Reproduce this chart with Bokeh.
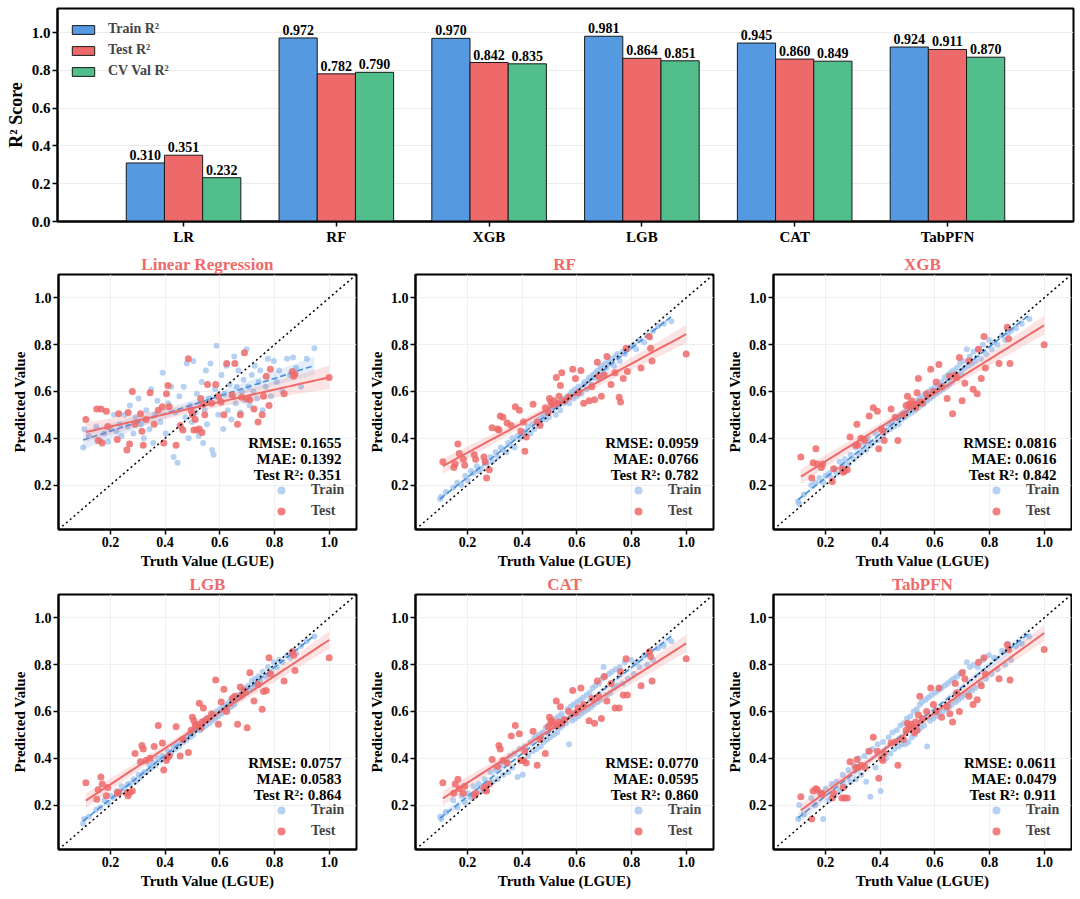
import numpy as np
from bokeh.plotting import figure
from bokeh.layouts import column, row
from bokeh.models import (ColumnDataSource, FactorRange, Range1d, FixedTicker,
                          NumeralTickFormatter, Legend, LegendItem, Label, Slope)
from bokeh.transform import dodge
from bokeh.core.properties import value
from bokeh.embed import file_html
from bokeh.resources import INLINE

FONT = "Liberation Serif"
BLUE = "#5599E0"
RED = "#EE6A6A"
GREEN = "#52BE8C"
TRAIN_DOT = "#9DC2EC"
TRAIN_LINE = "#4A8FDD"

# ---------------- bar chart data ----------------
models = ["LR", "RF", "XGB", "LGB", "CAT", "TabPFN"]
titles = ["Linear Regression", "RF", "XGB", "LGB", "CAT", "TabPFN"]
train_r2 = [0.310, 0.972, 0.970, 0.981, 0.945, 0.924]
test_r2 = [0.351, 0.782, 0.842, 0.864, 0.860, 0.911]
cv_r2 = [0.232, 0.790, 0.835, 0.851, 0.849, 0.870]
rmse = ["0.1655", "0.0959", "0.0816", "0.0757", "0.0770", "0.0611"]
mae = ["0.1392", "0.0766", "0.0616", "0.0583", "0.0595", "0.0479"]

# ---------------- scatter data ----------------
test_truth = [0.11, 0.15, 0.155, 0.165, 0.17, 0.185, 0.19, 0.225, 0.23, 0.26,
              0.265, 0.27, 0.28, 0.29, 0.31, 0.315, 0.32, 0.33, 0.345, 0.36,
              0.375, 0.39, 0.395, 0.405, 0.41, 0.415, 0.44, 0.455, 0.465, 0.485,
              0.495, 0.50, 0.505, 0.51, 0.515, 0.525, 0.53, 0.535, 0.54, 0.545,
              0.555, 0.57, 0.585, 0.595, 0.605, 0.615, 0.625, 0.645, 0.655, 0.665,
              0.675, 0.68, 0.69, 0.70, 0.71, 0.725, 0.74, 0.755, 0.76, 0.77,
              0.78, 0.785, 0.835, 0.865, 0.87, 0.875, 1.0]

test_lr = [0.48, 0.525, 0.39, 0.525, 0.38, 0.515, 0.45, 0.395, 0.505, 0.35,
           0.51, 0.375, 0.60, 0.46, 0.505, 0.43, 0.37, 0.48, 0.595, 0.46,
           0.52, 0.535, 0.38, 0.59, 0.625, 0.535, 0.37, 0.455, 0.435, 0.74,
           0.52, 0.50, 0.435, 0.48, 0.435, 0.44, 0.57, 0.425, 0.545, 0.50,
           0.63, 0.55, 0.63, 0.58, 0.555, 0.50, 0.72, 0.585, 0.72, 0.46,
           0.50, 0.575, 0.765, 0.57, 0.565, 0.525, 0.47, 0.50, 0.58, 0.665,
           0.54, 0.695, 0.59, 0.685, 0.665, 0.675, 0.66]
test_rf = [0.30, 0.275, 0.29, 0.375, 0.335, 0.31, 0.285, 0.33, 0.31, 0.32,
           0.30, 0.23, 0.265, 0.445, 0.44, 0.435, 0.495, 0.49, 0.465, 0.455,
           0.535, 0.52, 0.43, 0.47, 0.345, 0.405, 0.545, 0.47, 0.455, 0.53,
           0.51, 0.57, 0.555, 0.545, 0.56, 0.66, 0.55, 0.58, 0.625, 0.68,
           0.56, 0.575, 0.695, 0.655, 0.595, 0.69, 0.55, 0.56, 0.62, 0.565,
           0.725, 0.665, 0.58, 0.67, 0.75, 0.63, 0.68, 0.575, 0.555, 0.655,
           0.785, 0.685, 0.70, 0.835, 0.785, 0.73, 0.76]
test_xgb = [0.32, 0.23, 0.295, 0.355, 0.29, 0.275, 0.29, 0.215, 0.27, 0.27,
            0.255, 0.26, 0.265, 0.405, 0.37, 0.46, 0.37, 0.40, 0.39, 0.495,
            0.53, 0.515, 0.355, 0.44, 0.43, 0.39, 0.525, 0.49, 0.39, 0.50,
            0.54, 0.58, 0.545, 0.54, 0.56, 0.545, 0.53, 0.595, 0.655, 0.555,
            0.55, 0.59, 0.695, 0.60, 0.64, 0.715, 0.62, 0.57, 0.665, 0.505,
            0.67, 0.66, 0.745, 0.56, 0.635, 0.73, 0.61, 0.59, 0.78, 0.655,
            0.835, 0.70, 0.72, 0.875, 0.825, 0.72, 0.80]
test_lgb = [0.295, 0.225, 0.265, 0.32, 0.29, 0.24, 0.275, 0.25, 0.255, 0.25,
            0.24, 0.255, 0.26, 0.42, 0.385, 0.455, 0.44, 0.39, 0.40, 0.45,
            0.54, 0.465, 0.35, 0.39, 0.405, 0.41, 0.535, 0.41, 0.48, 0.425,
            0.52, 0.575, 0.56, 0.54, 0.545, 0.635, 0.53, 0.555, 0.615, 0.56,
            0.57, 0.59, 0.735, 0.545, 0.64, 0.695, 0.60, 0.655, 0.665, 0.545,
            0.705, 0.67, 0.69, 0.53, 0.765, 0.645, 0.715, 0.61, 0.685, 0.69,
            0.83, 0.76, 0.73, 0.855, 0.84, 0.775, 0.83]
test_cat = [0.295, 0.25, 0.29, 0.31, 0.27, 0.25, 0.28, 0.24, 0.25, 0.275,
            0.265, 0.26, 0.29, 0.395, 0.365, 0.455, 0.44, 0.39, 0.38, 0.495,
            0.54, 0.505, 0.39, 0.39, 0.43, 0.38, 0.515, 0.37, 0.48, 0.42,
            0.535, 0.575, 0.555, 0.56, 0.545, 0.645, 0.54, 0.555, 0.62, 0.55,
            0.565, 0.60, 0.69, 0.595, 0.615, 0.70, 0.63, 0.56, 0.655, 0.55,
            0.73, 0.665, 0.57, 0.75, 0.645, 0.72, 0.615, 0.615, 0.77, 0.67,
            0.825, 0.67, 0.71, 0.855, 0.835, 0.73, 0.825]
test_tab = [0.235, 0.14, 0.26, 0.27, 0.265, 0.25, 0.245, 0.23, 0.25, 0.23,
            0.275, 0.23, 0.23, 0.385, 0.36, 0.395, 0.36, 0.37, 0.36, 0.43,
            0.49, 0.43, 0.315, 0.40, 0.39, 0.42, 0.465, 0.47, 0.37, 0.48,
            0.52, 0.55, 0.54, 0.53, 0.545, 0.51, 0.555, 0.52, 0.585, 0.665,
            0.57, 0.60, 0.70, 0.63, 0.60, 0.70, 0.575, 0.62, 0.59, 0.555,
            0.72, 0.68, 0.60, 0.765, 0.74, 0.665, 0.63, 0.65, 0.81, 0.71,
            0.83, 0.76, 0.74, 0.885, 0.865, 0.735, 0.865]

train_truth = [0.100, 0.104, 0.121, 0.148, 0.163, 0.178, 0.192, 0.201, 0.213, 0.222,
               0.234, 0.241, 0.252, 0.263, 0.271, 0.284, 0.292, 0.303, 0.311, 0.322,
               0.331, 0.343, 0.349, 0.356, 0.364, 0.372, 0.383, 0.391, 0.402, 0.411,
               0.422, 0.431, 0.438, 0.445, 0.452, 0.461, 0.468, 0.474, 0.479, 0.486,
               0.492, 0.498, 0.503, 0.511, 0.516, 0.523, 0.528, 0.534, 0.539, 0.545,
               0.549, 0.553, 0.561, 0.566, 0.572, 0.577, 0.583, 0.588, 0.594, 0.601,
               0.606, 0.613, 0.617, 0.624, 0.629, 0.636, 0.642, 0.647, 0.653, 0.658,
               0.662, 0.668, 0.676, 0.681, 0.687, 0.692, 0.698, 0.704, 0.709, 0.717,
               0.723, 0.728, 0.736, 0.742, 0.748, 0.757, 0.768, 0.776, 0.787, 0.798,
               0.808, 0.817, 0.829, 0.846, 0.857, 0.868, 0.879, 0.897, 0.918, 0.946]

train_lr = [0.36, 0.44, 0.41, 0.45, 0.39, 0.42, 0.385, 0.44, 0.50, 0.43,
            0.46, 0.41, 0.50, 0.45, 0.54, 0.42, 0.49, 0.57, 0.46, 0.40,
            0.52, 0.44, 0.61, 0.38, 0.50, 0.56, 0.47, 0.68, 0.42, 0.55,
            0.62, 0.32, 0.51, 0.295, 0.58, 0.44, 0.62, 0.49, 0.72, 0.40,
            0.54, 0.47, 0.73, 0.51, 0.59, 0.41, 0.55, 0.64, 0.38, 0.52,
            0.69, 0.46, 0.57, 0.72, 0.35, 0.33, 0.61, 0.795, 0.50, 0.56,
            0.67, 0.44, 0.59, 0.71, 0.52, 0.63, 0.48, 0.58, 0.75, 0.55,
            0.62, 0.69, 0.51, 0.60, 0.65, 0.56, 0.78, 0.62, 0.54, 0.67,
            0.60, 0.71, 0.57, 0.64, 0.69, 0.52, 0.62, 0.74, 0.58, 0.73,
            0.64, 0.69, 0.60, 0.74, 0.67, 0.745, 0.70, 0.62, 0.74, 0.785]
train_rf = [0.14, 0.15, 0.17, 0.19, 0.21, 0.20, 0.24, 0.22, 0.26, 0.25,
            0.28, 0.26, 0.27, 0.30, 0.29, 0.32, 0.30, 0.34, 0.32, 0.36,
            0.35, 0.34, 0.38, 0.37, 0.40, 0.36, 0.41, 0.40, 0.42, 0.43,
            0.45, 0.42, 0.46, 0.44, 0.47, 0.48, 0.46, 0.49, 0.50, 0.48,
            0.51, 0.49, 0.53, 0.52, 0.54, 0.50, 0.55, 0.54, 0.52, 0.56,
            0.57, 0.55, 0.56, 0.58, 0.55, 0.59, 0.60, 0.57, 0.61, 0.58,
            0.62, 0.60, 0.59, 0.63, 0.64, 0.61, 0.65, 0.66, 0.63, 0.67,
            0.66, 0.68, 0.69, 0.65, 0.70, 0.71, 0.68, 0.72, 0.70, 0.73,
            0.72, 0.74, 0.71, 0.75, 0.76, 0.73, 0.77, 0.76, 0.78, 0.79,
            0.80, 0.78, 0.82, 0.81, 0.84, 0.83, 0.86, 0.88, 0.89, 0.90]
train_xgb = [0.13, 0.12, 0.16, 0.20, 0.21, 0.23, 0.21, 0.24, 0.25, 0.23,
             0.27, 0.25, 0.30, 0.28, 0.31, 0.29, 0.33, 0.31, 0.36, 0.33,
             0.34, 0.38, 0.35, 0.40, 0.37, 0.38, 0.42, 0.39, 0.44, 0.41,
             0.43, 0.46, 0.44, 0.47, 0.45, 0.49, 0.46, 0.50, 0.48, 0.51,
             0.49, 0.52, 0.50, 0.54, 0.51, 0.55, 0.52, 0.56, 0.53, 0.57,
             0.54, 0.58, 0.55, 0.59, 0.56, 0.60, 0.57, 0.61, 0.58, 0.62,
             0.59, 0.63, 0.60, 0.64, 0.61, 0.66, 0.62, 0.67, 0.63, 0.68,
             0.64, 0.69, 0.66, 0.70, 0.67, 0.72, 0.68, 0.73, 0.70, 0.78,
             0.71, 0.75, 0.72, 0.77, 0.73, 0.78, 0.74, 0.80, 0.76, 0.82,
             0.78, 0.81, 0.80, 0.84, 0.82, 0.85, 0.86, 0.87, 0.89, 0.91]
train_lgb = [0.12, 0.14, 0.15, 0.18, 0.19, 0.22, 0.21, 0.24, 0.23, 0.26,
             0.25, 0.28, 0.27, 0.29, 0.29, 0.31, 0.30, 0.33, 0.32, 0.34,
             0.34, 0.37, 0.36, 0.38, 0.37, 0.40, 0.39, 0.41, 0.40, 0.43,
             0.42, 0.45, 0.44, 0.46, 0.45, 0.48, 0.47, 0.49, 0.48, 0.50,
             0.49, 0.51, 0.50, 0.53, 0.52, 0.54, 0.52, 0.55, 0.53, 0.56,
             0.54, 0.57, 0.55, 0.58, 0.56, 0.59, 0.57, 0.60, 0.58, 0.61,
             0.59, 0.62, 0.60, 0.63, 0.61, 0.64, 0.62, 0.65, 0.63, 0.66,
             0.65, 0.67, 0.66, 0.69, 0.67, 0.70, 0.68, 0.71, 0.69, 0.73,
             0.70, 0.74, 0.72, 0.75, 0.73, 0.77, 0.75, 0.79, 0.77, 0.81,
             0.79, 0.82, 0.81, 0.84, 0.83, 0.86, 0.85, 0.88, 0.90, 0.92]
train_cat = [0.15, 0.14, 0.17, 0.22, 0.19, 0.24, 0.21, 0.25, 0.23, 0.28,
             0.25, 0.29, 0.26, 0.31, 0.28, 0.34, 0.30, 0.35, 0.31, 0.37,
             0.33, 0.39, 0.34, 0.41, 0.36, 0.42, 0.32, 0.44, 0.33, 0.45,
             0.41, 0.47, 0.43, 0.49, 0.44, 0.50, 0.45, 0.51, 0.47, 0.53,
             0.48, 0.54, 0.49, 0.56, 0.50, 0.57, 0.51, 0.58, 0.53, 0.59,
             0.54, 0.57, 0.55, 0.61, 0.46, 0.62, 0.56, 0.63, 0.57, 0.64,
             0.58, 0.65, 0.59, 0.66, 0.60, 0.67, 0.61, 0.68, 0.62, 0.70,
             0.63, 0.71, 0.64, 0.72, 0.65, 0.74, 0.79, 0.75, 0.67, 0.76,
             0.68, 0.77, 0.70, 0.78, 0.71, 0.79, 0.72, 0.81, 0.74, 0.82,
             0.76, 0.81, 0.79, 0.84, 0.80, 0.86, 0.82, 0.87, 0.88, 0.90]
train_tab = [0.14, 0.20, 0.16, 0.23, 0.20, 0.25, 0.14, 0.27, 0.22, 0.29,
             0.24, 0.30, 0.26, 0.33, 0.28, 0.35, 0.30, 0.37, 0.31, 0.40,
             0.33, 0.41, 0.30, 0.43, 0.235, 0.44, 0.36, 0.46, 0.26, 0.47,
             0.40, 0.49, 0.42, 0.51, 0.44, 0.52, 0.45, 0.54, 0.46, 0.55,
             0.46, 0.57, 0.47, 0.58, 0.49, 0.60, 0.50, 0.61, 0.52, 0.63,
             0.53, 0.64, 0.54, 0.65, 0.45, 0.66, 0.56, 0.67, 0.57, 0.68,
             0.58, 0.69, 0.59, 0.70, 0.60, 0.71, 0.61, 0.72, 0.62, 0.73,
             0.63, 0.74, 0.64, 0.75, 0.65, 0.76, 0.66, 0.77, 0.67, 0.81,
             0.68, 0.79, 0.69, 0.80, 0.70, 0.79, 0.72, 0.82, 0.74, 0.84,
             0.76, 0.83, 0.78, 0.86, 0.80, 0.89, 0.82, 0.88, 0.89, 0.92]

test_preds = [test_lr, test_rf, test_xgb, test_lgb, test_cat, test_tab]
train_preds = [train_lr, train_rf, train_xgb, train_lgb, train_cat, train_tab]

LIM = (0.01, 1.1)


def style_axes(p, tick_size="14px", label_size="15px"):
    p.outline_line_color = "black"
    p.outline_line_width = 2
    p.outline_line_alpha = 1
    for ax in (p.xaxis, p.yaxis):
        ax.axis_line_color = "black"
        ax.axis_line_width = 2
        ax.major_tick_line_color = "black"
        ax.major_tick_line_width = 1.5
        ax.major_tick_out = 5
        ax.major_tick_in = 0
        ax.minor_tick_line_color = None
        ax.major_label_text_font = FONT
        ax.major_label_text_font_style = "bold"
        ax.major_label_text_font_size = tick_size
        ax.major_label_text_color = "black"
        ax.major_label_standoff = 2
        ax.axis_label_text_font = FONT
        ax.axis_label_text_font_style = "bold"
        ax.axis_label_text_font_size = label_size
        ax.axis_label_text_color = "black"
        ax.axis_label_standoff = 3


def fit_band(x, y, n=60):
    x = np.asarray(x, dtype=float)
    y = np.asarray(y, dtype=float)
    b, a = np.polyfit(x, y, 1)
    xs = np.linspace(x.min(), x.max(), n)
    yhat = a + b * xs
    resid = y - (a + b * x)
    s = np.sqrt(np.sum(resid ** 2) / (len(x) - 2))
    se = s * np.sqrt(1.0 / len(x) + (xs - x.mean()) ** 2 / np.sum((x - x.mean()) ** 2))
    return xs, yhat, yhat - 1.96 * se, yhat + 1.96 * se


# ---------------- top: grouped bars ----------------
src = ColumnDataSource(dict(
    model=models, train=train_r2, test=test_r2, cv=cv_r2,
    train_txt=[f"{v:.3f}" for v in train_r2],
    test_txt=[f"{v:.3f}" for v in test_r2],
    cv_txt=[f"{v:.3f}" for v in cv_r2],
))

bar = figure(x_range=FactorRange(factors=models, range_padding=0.325,
                                 range_padding_units="absolute"),
             y_range=Range1d(0, 1.128), width=1075, height=251,
             output_backend="svg", toolbar_location=None,
             min_border_left=57, min_border_right=2, min_border_top=8,
             min_border_bottom=30)

items = []
for key, off, col, lab in [("train", -0.25, BLUE, "Train R²"),
                           ("test", 0.0, RED, "Test R²"),
                           ("cv", 0.25, GREEN, "CV Val R²")]:
    xs = dodge("model", off, range=bar.x_range)
    r = bar.vbar(x=xs, top=key, width=0.25, source=src, fill_color=col,
                 fill_alpha=1, line_color="#1a1a1a", line_width=1)
    bar.text(x=xs, y=key, text=key + "_txt", source=src, text_align="center",
             text_baseline="bottom", y_offset=-3, text_font=value(FONT),
             text_font_style="bold", text_font_size="14px", text_color="black")
    items.append(LegendItem(label=lab, renderers=[r]))

style_axes(bar, tick_size="15px", label_size="18px")
bar.yaxis.axis_label = "R² Score"
bar.yaxis.ticker = FixedTicker(ticks=[0, 0.2, 0.4, 0.6, 0.8, 1.0])
bar.yaxis.formatter = NumeralTickFormatter(format="0.0")
bar.xgrid.grid_line_color = None
bar.ygrid.grid_line_color = "#e6e6e6"
bar.ygrid.grid_line_width = 0.8

leg = Legend(items=items, location=(12, 141), glyph_width=28, glyph_height=11,
             label_height=18, spacing=3, padding=2, label_standoff=11,
             label_text_font=FONT, label_text_font_style="bold",
             label_text_font_size="14px", background_fill_alpha=0,
             border_line_color=None)
bar.add_layout(leg)

# ---------------- scatter panels ----------------
col_specs = [(362, 58, 6), (354, 53, 3), (356, 57, 1)]
panels = []
for k in range(6):
    w, bl, br = col_specs[k % 3]
    p = figure(width=w, height=320, x_range=Range1d(*LIM), y_range=Range1d(*LIM),
               output_backend="svg", toolbar_location=None,
               min_border_left=bl, min_border_right=br, min_border_top=22,
               min_border_bottom=42, title=titles[k])
    p.title.text_font = FONT
    p.title.text_font_style = "bold"
    p.title.text_font_size = "17px"
    p.title.text_color = RED
    p.title.align = "center"
    p.title.standoff = 2

    style_axes(p)
    p.xaxis.axis_label = "Truth Value (LGUE)"
    p.yaxis.axis_label = "Predicted Value"
    for ax in (p.xaxis, p.yaxis):
        ax.ticker = FixedTicker(ticks=[0.2, 0.4, 0.6, 0.8, 1.0])
        ax.formatter = NumeralTickFormatter(format="0.0")
    p.grid.grid_line_color = "#ececec"
    p.grid.grid_line_width = 0.8

    r_tr = p.scatter(train_truth, train_preds[k], size=6, fill_color=TRAIN_DOT,
                     fill_alpha=0.75, line_color=None)
    xs, yh, lo, hi = fit_band(train_truth, train_preds[k])
    p.varea(x=xs, y1=lo, y2=hi, fill_color=TRAIN_LINE, fill_alpha=0.15)
    p.line(xs, yh, line_color=TRAIN_LINE, line_width=1.6, line_dash="6 3")

    r_te = p.scatter(test_truth, test_preds[k], size=7, fill_color=RED,
                     fill_alpha=0.85, line_color=None)
    xs, yh, lo, hi = fit_band(test_truth, test_preds[k])
    p.varea(x=xs, y1=lo, y2=hi, fill_color=RED, fill_alpha=0.18)
    p.line(xs, yh, line_color=RED, line_width=2)

    p.add_layout(Slope(gradient=1, y_intercept=0, line_color="black",
                       line_width=1.5, line_dash="2 3"))

    for txt, yy in [(f"RMSE: {rmse[k]}", 0.378), (f"MAE: {mae[k]}", 0.313),
                    (f"Test R²: {test_r2[k]:.3f}", 0.244)]:
        p.add_layout(Label(x=1.045, y=yy, text=txt, text_align="right",
                           text_baseline="middle", text_font=FONT,
                           text_font_style="bold", text_font_size="15px",
                           text_color="black"))

    lg = Legend(items=[LegendItem(label="Train", renderers=[r_tr]),
                       LegendItem(label="Test", renderers=[r_te])],
                location=(209, 8), padding=0, spacing=1,
                glyph_width=28, glyph_height=20, label_height=20,
                label_standoff=16, label_text_font=FONT,
                label_text_font_style="bold", label_text_font_size="14px",
                background_fill_alpha=0, border_line_color=None)
    p.add_layout(lg)
    panels.append(p)

layout = column(bar, row(*panels[:3]), row(*panels[3:]))
open("out.html", "w").write(file_html(layout, INLINE, title="Model R2 comparison"))
